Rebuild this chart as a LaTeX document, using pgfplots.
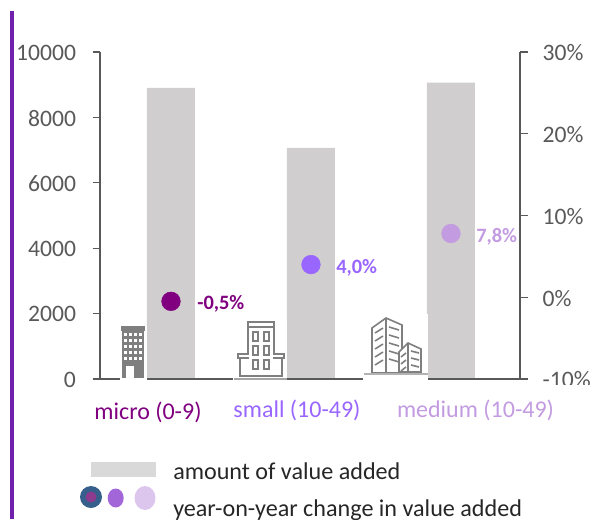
\documentclass[border=0pt]{standalone}
\usepackage{pgfplots}
\pgfplotsset{compat=1.18}
\usepackage{fontspec}
\setmainfont{Carlito}
\definecolor{barg}{HTML}{D0CECE}
\definecolor{axg}{HTML}{595959}
\definecolor{txg}{HTML}{595959}
\definecolor{cmicro}{HTML}{800080}
\definecolor{csmall}{HTML}{9966FF}
\definecolor{cmed}{HTML}{C39BE1}
\definecolor{vbar}{HTML}{7020AA}
\definecolor{icon}{HTML}{7F7F7F}
\pgfplotstableread{
x value
0 8900
1 7070
2 9060
}\bars
\begin{document}
\begin{tikzpicture}[x=0.75pt,y=-0.75pt]
\path[use as bounding box] (0,0) rectangle (593,519);
\begin{scope}
\clip (0,0) rectangle (593,519);
\fill[vbar] (10,11) rectangle (14,519);
\begin{axis}[
  at={(75pt,-284.25pt)},anchor=south west,scale only axis,
  width=315pt,height=245.25pt,
  xmin=-0.507,xmax=2.493,ymin=0,ymax=10000,
  axis y line*=left,axis x line=none,
  ytick={0,2000,4000,6000,8000,10000},
  scaled y ticks=false,
  yticklabel style={/pgf/number format/.cd,1000 sep={},assume math mode=true},
  tick style={axg,line width=0.9pt},
  tick align=outside,major tick length=5.5pt,
  y axis line style={axg,line width=0.9pt,-},
  ticklabel style={font=\fontsize{17.7pt}{20pt}\selectfont,text=txg,xshift=-9pt,yshift=-0.6pt},
  clip=false]
\addplot[ybar,bar width=36pt,fill=barg,draw=none] table[x=x,y=value]{\bars};
\end{axis}
\draw[axg,line width=1.2pt] (93,379) -- (528,379);
\begin{axis}[
  at={(75pt,-284.25pt)},anchor=south west,scale only axis,
  width=315pt,height=245.25pt,
  xmin=-0.507,xmax=2.493,ymin=-10,ymax=30,
  axis y line*=right,axis x line=none,
  ytick={-10,0,10,20,30},
  yticklabel={\pgfmathprintnumber[assume math mode=true]{\tick}\%},
  tick style={axg,line width=0.9pt},
  tick align=outside,major tick length=6pt,
  y axis line style={axg,line width=0.9pt,-},
  ticklabel style={font=\fontsize{17.7pt}{20pt}\selectfont,text=txg,xshift=7.5pt,yshift=-0.6pt},
  clip=false]
\addplot[only marks,mark=*,mark size=7pt,
  scatter,scatter src=explicit symbolic,
  scatter/classes={a={mark=*,fill=cmicro,draw=cmicro},b={mark=*,fill=csmall,draw=csmall},c={mark=*,fill=cmed,draw=cmed}}]
  table[x=x,y=chg,meta=m]{
x chg m
0 -0.5 a
1 4.0 b
2 7.8 c
};
\end{axis}
% white masks behind icons
\fill[white] (120,325) rectangle (147,381);
\fill[white] (233,320) rectangle (287,381);
\fill[white] (363,314) rectangle (428,381);
\fill[white] (530,385) rectangle (593,395);
% icon micro
\fill[icon] (121,326) rectangle (145,331);
\fill[icon] (122,331) rectangle (144,378);
\fill[white] (126,366) rectangle (134,378);
\foreach \yy in {333,339,345,351,357}{\foreach \xx in {124,129,134,139}{\fill[white] (\xx,\yy) rectangle +(2.6,3.4);}}
% icon small
\begin{scope}[draw=icon,line width=1.2pt]
\draw (248,322) rectangle (274,327);
\draw (248,327) -- (248,353) (274,327) -- (274,353);
\draw (238,354) rectangle (284,358);
\draw (240,358) rectangle (282,376);
\fill[white] (249,350) rectangle (273,365);
\draw (253,332) rectangle (258,341); \draw (264,332) rectangle (269,341);
\draw (253,346) rectangle (258,355); \draw (264,346) rectangle (269,355);
\draw (253,360) rectangle (258,369); \draw (264,360) rectangle (269,369);
\end{scope}
\draw[icon!70,line width=1pt] (234,379) -- (287,379);
% icon medium
\begin{scope}[draw=icon,line width=1.2pt]
\draw (372,328) -- (386,318) -- (402,325) -- (402,373) -- (372,373) -- cycle;
\draw (386,318) -- (386,373);
\fill[white] (399,352) -- (408,343) -- (421,349) -- (421,372) -- (399,372) -- cycle;
\draw (399,352) -- (408,343) -- (421,349) -- (421,372) -- (399,372) -- cycle;
\draw (408,343) -- (408,372);
\foreach \yy in {327,335,343,351,359}{\draw (389,\yy) -- (399,\yy+3); \draw (375,\yy+6) -- (383,\yy+1);}
\foreach \yy in {351,358,365}{\draw (411,\yy) -- (419,\yy+2); \draw (401,\yy+6) -- (406,\yy+2);}
\end{scope}
\draw[icon!60,line width=1pt] (364,374) -- (428,374);
% data labels
\node[anchor=west,inner sep=0pt,font=\bfseries\fontsize{15.3pt}{17pt}\selectfont,text=cmicro] at (197,304) {-0,5\%};
\node[anchor=west,inner sep=0pt,font=\bfseries\fontsize{15.3pt}{17pt}\selectfont,text=csmall] at (336,268) {4,0\%};
\node[anchor=west,inner sep=0pt,font=\bfseries\fontsize{15.3pt}{17pt}\selectfont,text=cmed] at (476,237) {7,8\%};
% categories
\node[font=\fontsize{18pt}{20pt}\selectfont,text=cmicro] at (148,412) {micro (0-9)};
\node[font=\fontsize{18pt}{20pt}\selectfont,text=csmall] at (297,410) {small (10-49)};
\node[font=\fontsize{18pt}{20pt}\selectfont,text=cmed] at (475.5,410) {medium (10-49)};
% legend
\fill[black!15] (91,462) rectangle (156,477);
\node[anchor=west,inner sep=0pt,font=\fontsize{18.1pt}{20pt}\selectfont,text=black!85] at (173,471) {amount of value added};
\node[anchor=west,inner sep=0pt,font=\fontsize{18.1pt}{20pt}\selectfont,text=black!85] at (173,510) {year-on-year change in value added};
\definecolor{l1}{HTML}{365F8C}\definecolor{l2}{HTML}{8E3A8E}\definecolor{l3}{HTML}{A366D8}\definecolor{l4}{HTML}{DDC6EE}
\fill[l1] (91,497) circle [radius=11];
\fill[l2] (91,497) circle [radius=5.5];
\fill[l3] (115.7,498) ellipse [x radius=8,y radius=9.5];
\fill[l4] (145,498) ellipse [x radius=10.5,y radius=12];
\end{scope}
\end{tikzpicture}
\end{document}
